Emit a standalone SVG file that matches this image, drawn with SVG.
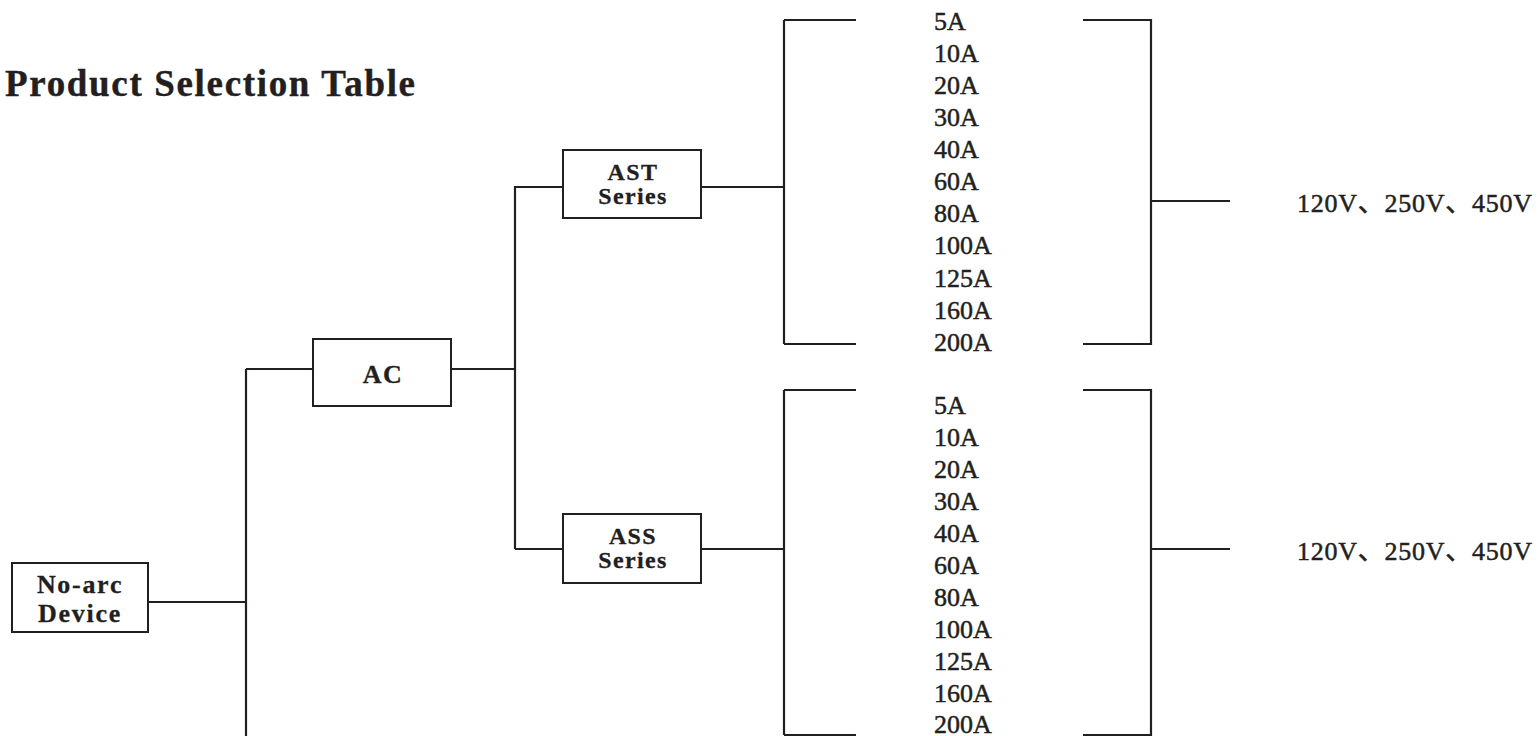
<svg xmlns="http://www.w3.org/2000/svg" width="1539" height="736" viewBox="0 0 1539 736">
<style>
.box{fill:#fff;stroke:#231f20;stroke-width:2}
.ln{fill:none;stroke:#231f20;stroke-width:2.2}
.lbl{font-family:"Liberation Serif","Times New Roman",serif;font-weight:bold;fill:#231f20;text-anchor:middle;stroke:#231f20;stroke-width:0.3}
.val{font-family:"Liberation Serif","Times New Roman","Noto Sans CJK SC",serif;font-size:26px;fill:#231f20;stroke:#231f20;stroke-width:0.5}
.title{font-family:"Liberation Serif","Times New Roman",serif;font-weight:bold;font-size:37px;fill:#231f20;stroke:#231f20;stroke-width:0.4}
</style>
<rect width="1539" height="736" fill="#fff"/>
<text class="title" x="5" y="96" textLength="410" lengthAdjust="spacing">Product Selection Table</text>
<g id="connectors">
<path class="ln" d="M148 602H246M246 369V736M246 369H313M451 369H515M515 186V549M515 187H563M515 549H563"/>
<path class="ln" d="M701 187H784M784 20V344M784 20H856M784 344H856M1083 20H1151V344H1083M1151 201H1230"/>
<path class="ln" d="M701 549H784M784 390V735M784 390H856M784 735H856M1083 390H1151V735H1083M1151 549H1230"/>
</g>
<g id="node-noarc">
<rect class="box" x="12" y="563" width="136" height="69"/>
<text class="lbl" x="80" y="593" font-size="26" letter-spacing="1.7">No-arc</text>
<text class="lbl" x="80" y="622" font-size="26" letter-spacing="1.7">Device</text>
</g>
<g id="node-ac">
<rect class="box" x="313" y="339" width="138" height="67"/>
<text class="lbl" x="383" y="383" font-size="26" letter-spacing="1.5">AC</text>
</g>
<g id="node-ast">
<rect class="box" x="563" y="150" width="138" height="68"/>
<text class="lbl" x="633" y="180" font-size="24" letter-spacing="1.4">AST</text>
<text class="lbl" x="633" y="204" font-size="24" letter-spacing="1.4">Series</text>
</g>
<g id="node-ass">
<rect class="box" x="563" y="514" width="138" height="69"/>
<text class="lbl" x="633" y="544" font-size="24" letter-spacing="1.4">ASS</text>
<text class="lbl" x="633" y="568" font-size="24" letter-spacing="1.4">Series</text>
</g>
<g id="node-ast-currents" class="val">
<text x="934" y="30">5A</text>
<text x="934" y="62">10A</text>
<text x="934" y="94">20A</text>
<text x="934" y="126">30A</text>
<text x="934" y="158">40A</text>
<text x="934" y="190">60A</text>
<text x="934" y="222">80A</text>
<text x="934" y="254">100A</text>
<text x="934" y="287">125A</text>
<text x="934" y="319">160A</text>
<text x="934" y="351">200A</text>
</g>
<g id="node-ass-currents" class="val">
<text x="934" y="414">5A</text>
<text x="934" y="446">10A</text>
<text x="934" y="478">20A</text>
<text x="934" y="510">30A</text>
<text x="934" y="542">40A</text>
<text x="934" y="574">60A</text>
<text x="934" y="606">80A</text>
<text x="934" y="638">100A</text>
<text x="934" y="670">125A</text>
<text x="934" y="702">160A</text>
<text x="934" y="733">200A</text>
</g>
<g id="node-ast-voltage">
<text class="val" x="1297" y="212" textLength="235" lengthAdjust="spacing">120V、250V、450V</text>
</g>
<g id="node-ass-voltage">
<text class="val" x="1297" y="560" textLength="235" lengthAdjust="spacing">120V、250V、450V</text>
</g>
</svg>
